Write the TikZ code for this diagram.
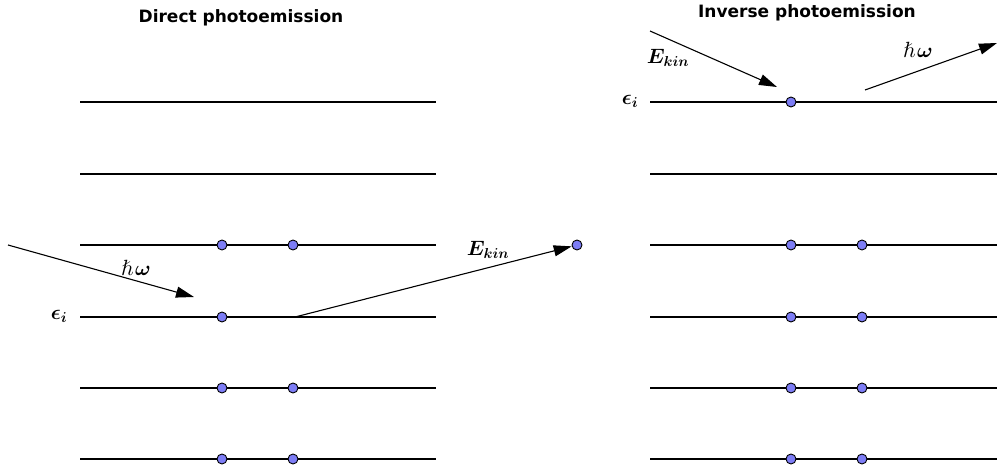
\documentclass[tikz,border=0pt]{standalone}
\usepackage{fontspec}
\usepackage{amsmath,bm}
\newfontfamily\titlefont{DejaVu Sans}
\newfontfamily\lmm{latinmodern-math.otf}
\newcommand{\myhbar}{\text{\lmm ℏ}}
\usetikzlibrary{arrows.meta}
\definecolor{dotblue}{RGB}{125,125,245}
\begin{document}
\begin{tikzpicture}[x=1pt,y=-1pt,
  level/.style={line width=1.1pt},
  dotst/.style={circle,draw=black,fill=dotblue,line width=0.9pt,inner sep=0pt,minimum size=10pt},
  arr/.style={line width=1.1pt,-{Triangle[length=18pt,width=11pt]}},
  ttl/.style={font=\titlefont\bfseries\fontsize{17}{19}\selectfont},
  lbl/.style={font=\fontsize{22}{25}\selectfont,inner sep=0pt}]
\useasboundingbox (0,0) rectangle (997,468);
% titles
\node[ttl] (t1) at (241,18) {Direct photoemission};
\node[ttl] (t2) at (807,13) {Inverse photoemission};
% levels
\foreach \y [count=\i] in {102,174,245,317,388,459}{
  \coordinate (La\i) at (80,\y); \coordinate (Lb\i) at (436,\y);
  \draw[level] (La\i) -- (Lb\i);
  \coordinate (Ra\i) at (650,\y); \coordinate (Rb\i) at (997,\y);
  \draw[level] (Ra\i) -- (Rb\i);
}
% left dots
\foreach \y/\n in {245/3,388/5,459/6}{
  \node[dotst] (ld1\n) at (222,\y) {};
  \node[dotst] (ld2\n) at (293,\y) {};
}
\node[dotst] (ld14) at (222,317) {};
\coordinate (lo) at (295,317);
\node[dotst] (free) at (577,245) {};
% right dots
\foreach \y/\n in {245/3,317/4,388/5,459/6}{
  \node[dotst] (rd1\n) at (791,\y) {};
  \node[dotst] (rd2\n) at (862,\y) {};
}
\node[dotst] (rd11) at (791,102) {};
% left arrows
\coordinate (ph1s) at (8,245);
\coordinate (ph1e) at (194,297);
\draw[arr] (ph1s) -- (ph1e);
\draw[arr] (lo) -- (free);
\node[lbl] (hw1) at (136,268) {$\myhbar\mkern1mu\bm{\omega}$};
\node[lbl] (ek1) at (488,250) {$\bm{E_{kin}}$};
\node[lbl] (ei1) at (59,316) {$\bm{\epsilon_i}$};
% right arrows
\coordinate (e2s) at (650,31);
\coordinate (e2e) at (777,87);
\draw[arr] (e2s) -- (e2e);
\coordinate (ph2s) at (865,90);
\coordinate (ph2e) at (997,43);
\draw[arr] (ph2s) -- (ph2e);
\node[lbl] (ek2) at (668,58) {$\bm{E_{kin}}$};
\node[lbl] (hw2) at (918,50) {$\myhbar\mkern1mu\bm{\omega}$};
\node[lbl] (ei2) at (630,101) {$\bm{\epsilon_i}$};
\end{tikzpicture}
\end{document}
